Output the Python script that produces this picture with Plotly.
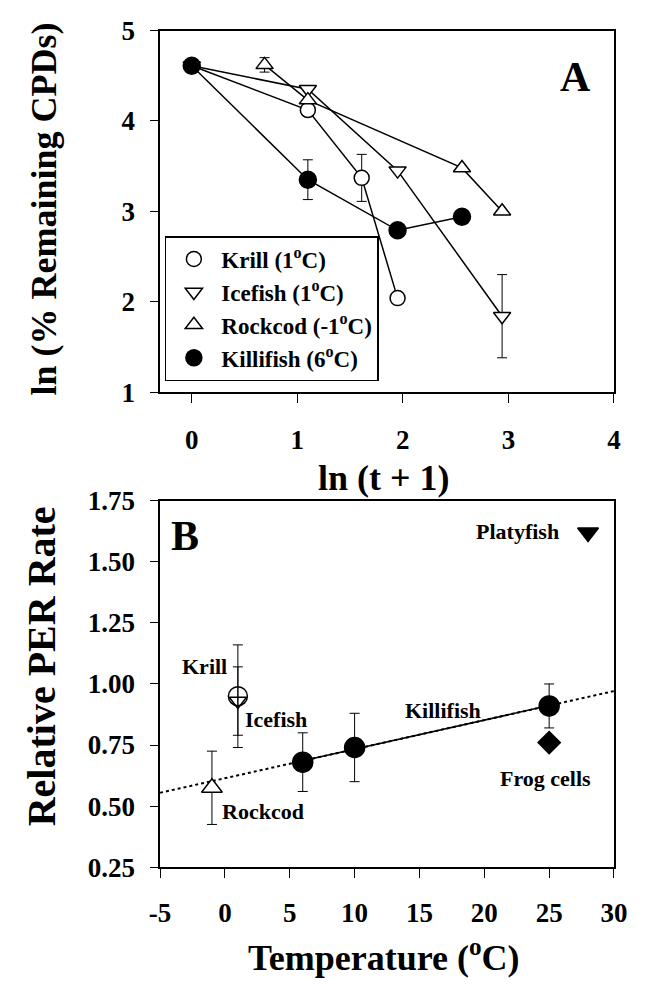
import plotly.graph_objects as go
import numpy as np

FONT = "Liberation Serif"
W, H = 653, 984

# ---------------- Panel A data: ln(% remaining CPDs) vs ln(t+1) ----------------
krill_x = [0.0, 1.10, 1.61, 1.95]
krill_y = [4.61, 4.12, 3.37, 2.04]
krill_err = [None, None, 0.26, None]

icefish_x = [0.0, 1.10, 1.95, 2.94]
icefish_y = [4.61, 4.35, 3.45, 1.84]
icefish_err = [None, None, None, 0.46]

rockcod_x = [0.69, 1.10, 2.56, 2.94]
rockcod_y = [4.62, 4.23, 3.48, 3.00]
rockcod_err = [0.08, None, None, None]

killi_x = [0.0, 1.10, 1.95, 2.56]
killi_y = [4.61, 3.35, 2.79, 2.94]
killi_err = [None, 0.22, None, None]

legend_names = ["Krill (1<sup>o</sup>C)", "Icefish (1<sup>o</sup>C)",
                "Rockcod (-1<sup>o</sup>C)", "Killifish (6<sup>o</sup>C)"]

# ---------------- Panel B data: relative PER rate vs temperature ----------------
rock_T, rock_rate, rock_err = [-1], [0.575], [0.15]
krillB_T, krillB_rate, krillB_err = [1], [0.95], [0.21]
iceB_T, iceB_rate, iceB_err = [1], [0.93], [0.14]
killiB_T = [6, 10, 25]
killiB_rate = [0.68, 0.74, 0.91]
killiB_err = [0.12, 0.14, 0.09]
frog_T, frog_rate = [25], [0.76]
platy_T, platy_rate = [28], [1.62]

xA_ticks = [0, 1, 2, 3, 4]
yA_ticks = [1, 2, 3, 4, 5]
xB_ticks = [-5, 0, 5, 10, 15, 20, 25, 30]
yB_ticks = [0.25, 0.50, 0.75, 1.00, 1.25, 1.50, 1.75]

fig = go.Figure()

def err(arr, w=5):
    return dict(type="data", array=arr, visible=True, color="black",
                thickness=1, width=w)

# Panel A lines
for xs, ys in [(krill_x, krill_y), (icefish_x, icefish_y),
               (rockcod_x, rockcod_y), (killi_x, killi_y)]:
    fig.add_trace(go.Scatter(x=xs, y=ys, mode="lines", xaxis="x", yaxis="y",
                             line=dict(color="black", width=1.5),
                             showlegend=False, hoverinfo="skip"))

# Panel A markers (with legend)
specs = [
    (krill_x, krill_y, krill_err, "circle", 15, "white", legend_names[0]),
    (icefish_x, icefish_y, icefish_err, "triangle-down", 15, "white", legend_names[1]),
    (rockcod_x, rockcod_y, rockcod_err, "triangle-up", 15, "white", legend_names[2]),
    (killi_x, killi_y, killi_err, "circle", 17, "black", legend_names[3]),
]
for xs, ys, e, sym, sz, fill, nm in specs:
    fig.add_trace(go.Scatter(
        x=xs, y=ys, mode="markers", xaxis="x", yaxis="y", name=nm,
        marker=dict(symbol=sym, size=sz, color=fill,
                    line=dict(color="black", width=1.5)),
        error_y=err(e), showlegend=True))

# Panel B regression line through killifish points
slope, intercept = np.polyfit(killiB_T, killiB_rate, 1)
xr_full = np.array([xB_ticks[0], xB_ticks[-1]], dtype=float)
xr_fit = np.array([min(killiB_T), max(killiB_T)], dtype=float)
fig.add_trace(go.Scatter(x=xr_full, y=slope * xr_full + intercept, mode="lines",
                         xaxis="x2", yaxis="y2", showlegend=False,
                         line=dict(color="black", width=2, dash="dot")))
fig.add_trace(go.Scatter(x=xr_fit, y=slope * xr_fit + intercept, mode="lines",
                         xaxis="x2", yaxis="y2", showlegend=False,
                         line=dict(color="black", width=1.5)))

def ptB(xs, ys, e, sym, sz, fill):
    fig.add_trace(go.Scatter(
        x=xs, y=ys, mode="markers", xaxis="x2", yaxis="y2", showlegend=False,
        marker=dict(symbol=sym, size=sz, color=fill,
                    line=dict(color="black", width=1.5)),
        error_y=err(e) if e is not None else None))

ptB(rock_T, rock_rate, rock_err, "triangle-up", 18, "white")
ptB(krillB_T, krillB_rate, krillB_err, "circle", 19, "rgba(0,0,0,0)")
ptB(iceB_T, iceB_rate, iceB_err, "triangle-down", 15, "rgba(0,0,0,0)")
ptB(killiB_T, killiB_rate, killiB_err, "circle", 20, "black")
ptB(frog_T, frog_rate, None, "diamond", 17, "black")
ptB(platy_T, platy_rate, None, "triangle-down", 18, "black")

# Layout
def px_x(p):
    return p / W

def px_y(p):
    return 1 - p / H

def bold(labels):
    return ["<b>%s</b>" % s for s in labels]

tick_font = dict(family=FONT, size=27, color="black")
axis_common = dict(showline=True, linecolor="black", linewidth=1.5, mirror=True,
                   ticks="outside", tickcolor="black", tickwidth=1.2,
                   showgrid=False, zeroline=False, tickfont=tick_font)

fig.update_layout(
    width=W, height=H, margin=dict(l=0, r=0, t=0, b=0),
    paper_bgcolor="white", plot_bgcolor="white",
    xaxis=dict(domain=[px_x(155), px_x(627)], range=[-0.3, 4], tickvals=xA_ticks,
               ticktext=bold([str(v) for v in xA_ticks]),
               anchor="y", ticklen=9, ticklabelstandoff=14, **axis_common),
    yaxis=dict(domain=[px_y(389), px_y(16)], range=[1, 5], tickvals=yA_ticks,
               ticktext=bold([str(v) for v in yA_ticks]),
               anchor="x", ticklen=8, ticklabelstandoff=10, **axis_common),
    xaxis2=dict(domain=[px_x(155), px_x(627)], range=[-5, 30], tickvals=xB_ticks,
                ticktext=bold([str(v) for v in xB_ticks]),
                anchor="y2", ticklen=9, ticklabelstandoff=12, **axis_common),
    yaxis2=dict(domain=[px_y(879), px_y(501)], range=[0.25, 1.75], tickvals=yB_ticks,
                ticktext=bold(["%.2f" % v for v in yB_ticks]),
                anchor="x2", ticklen=8, ticklabelstandoff=10, **axis_common),
    legend=dict(x=px_x(160), y=px_y(228), xanchor="left", yanchor="top",
                bordercolor="black", borderwidth=1.5, bgcolor="white",
                font=dict(family=FONT, size=23, color="black", weight="bold"),
                itemwidth=45),
    showlegend=True,
)

title_font = dict(family=FONT, size=36, color="black", weight="bold")
label_font = dict(family=FONT, size=22, color="black", weight="bold")
letter_font = dict(family=FONT, size=42, color="black", weight="bold")

annotations = [
    dict(text="ln (% Remaining CPDs)", x=px_x(34), y=px_y(200), textangle=-90, font=title_font),
    dict(text="ln (t + 1)", x=px_x(388), y=px_y(478), font=title_font),
    dict(text="Relative PER Rate", x=px_x(32), y=px_y(672), textangle=-90,
         font=dict(family=FONT, size=40, color="black", weight="bold")),
    dict(text="Temperature (<sup>o</sup>C)", x=px_x(388), y=px_y(970), font=title_font),
    dict(text="A", x=px_x(587), y=px_y(64), font=letter_font),
    dict(text="B", x=px_x(181), y=px_y(537), font=letter_font),
    dict(text="Krill", x=px_x(201), y=px_y(672), font=label_font),
    dict(text="Icefish", x=px_x(276), y=px_y(727), font=label_font),
    dict(text="Killifish", x=px_x(449), y=px_y(717), font=label_font),
    dict(text="Rockcod", x=px_x(262), y=px_y(822), font=label_font),
    dict(text="Frog cells", x=px_x(556), y=px_y(787), font=label_font),
    dict(text="Platyfish", x=px_x(527), y=px_y(533), font=label_font),
]
for a in annotations:
    a.update(xref="paper", yref="paper", showarrow=False, xanchor="center", yanchor="middle")
fig.update_layout(annotations=annotations)

fig.write_html("out.html")
